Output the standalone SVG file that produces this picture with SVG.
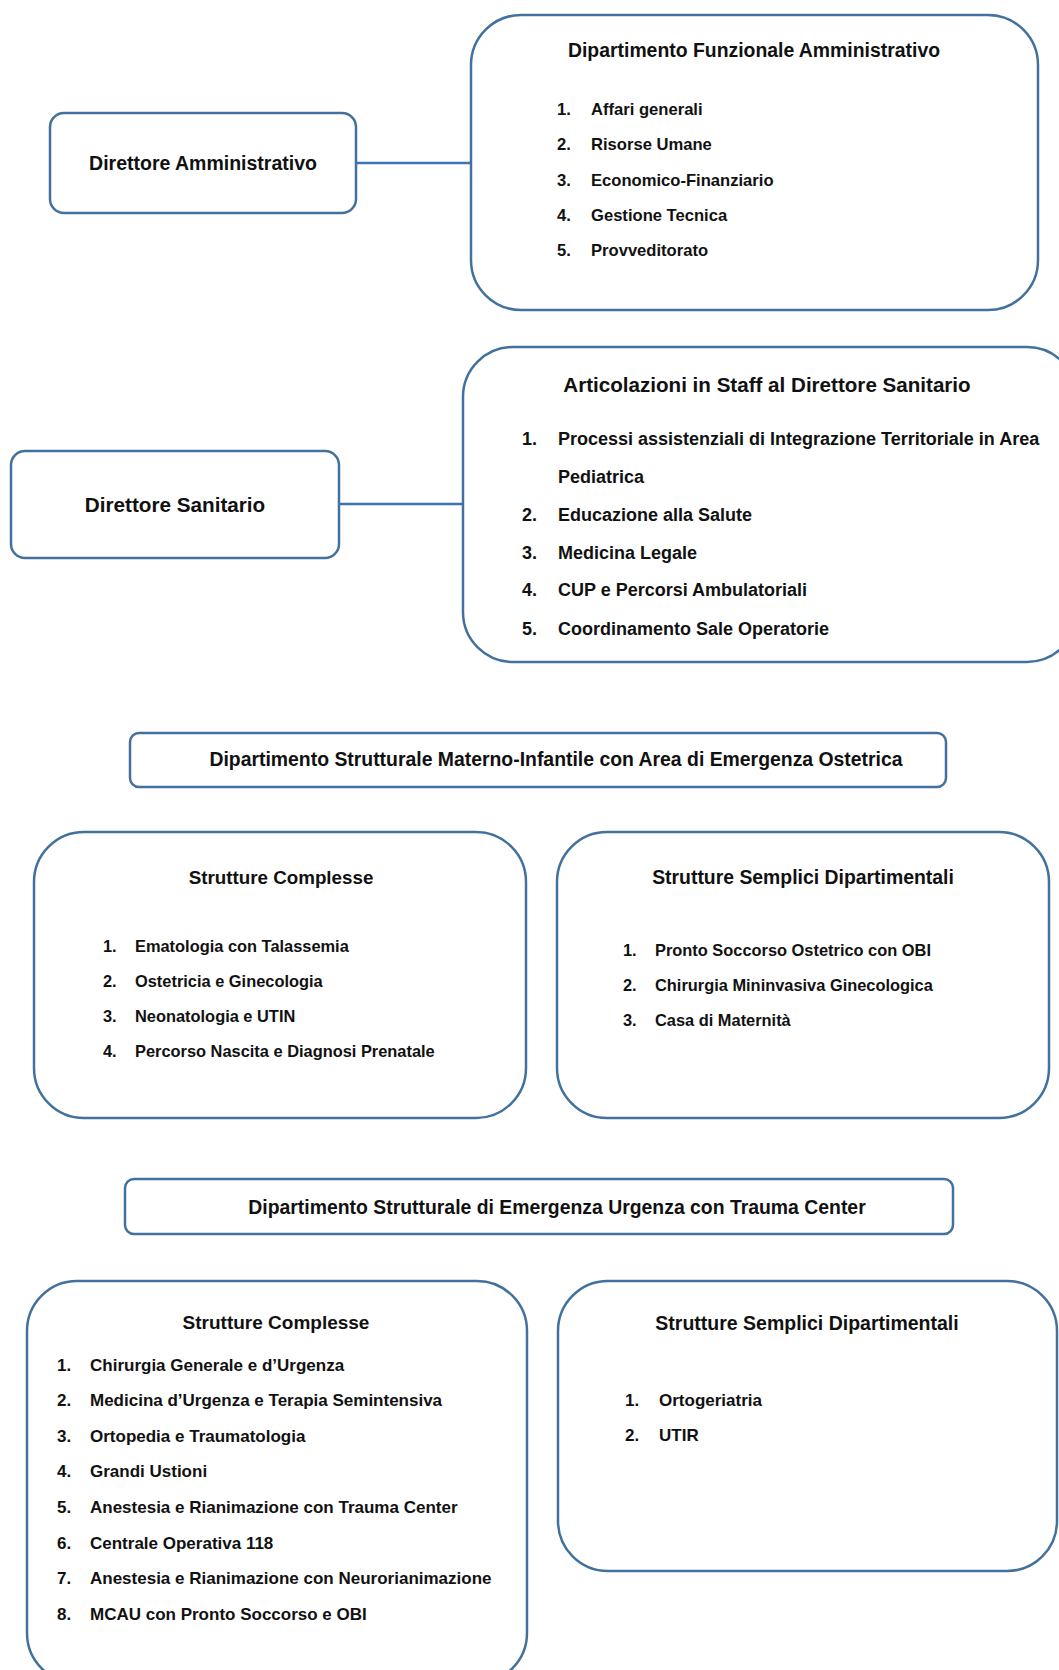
<svg xmlns="http://www.w3.org/2000/svg" width="1059" height="1670" viewBox="0 0 1059 1670">
<style>
.box{fill:#fff;stroke:#41719C;stroke-width:2.5}
.conn{stroke:#3B75B5;stroke-width:2.5;fill:none}
text{font-family:"Liberation Sans",Arial,sans-serif;font-weight:bold;fill:#111}
.t{font-size:19.4px;text-anchor:middle}
.it{font-size:16.6px}
</style>
<rect width="1059" height="1670" fill="#fff"/>
<g id="connectors">
<line class="conn" x1="356" y1="163" x2="471" y2="163"/>
<line class="conn" x1="339" y1="504" x2="463" y2="504"/>
</g>
<g id="direttore-amministrativo">
<rect class="box" x="50" y="113" width="306" height="100" rx="14"/>
<text class="t" x="203" y="170" style="font-size:19.5px">Direttore Amministrativo</text>
</g>
<g id="dip-funzionale-amministrativo">
<rect class="box" x="471" y="15" width="567" height="295" rx="50"/>
<text class="t" x="754" y="57">Dipartimento Funzionale Amministrativo</text>
<g class="it">
<text x="557" y="115">1.</text><text x="591" y="115">Affari generali</text>
<text x="557" y="150">2.</text><text x="591" y="150">Risorse Umane</text>
<text x="557" y="186">3.</text><text x="591" y="186">Economico-Finanziario</text>
<text x="557" y="221">4.</text><text x="591" y="221">Gestione Tecnica</text>
<text x="557" y="256">5.</text><text x="591" y="256">Provveditorato</text>
</g>
</g>
<g id="direttore-sanitario">
<rect class="box" x="11" y="451" width="328" height="107" rx="14"/>
<text class="t" x="175" y="512" style="font-size:20.7px">Direttore Sanitario</text>
</g>
<g id="staff-direttore-sanitario">
<rect class="box" x="463" y="347" width="614" height="315" rx="50"/>
<text class="t" x="767" y="392" style="font-size:20.6px">Articolazioni in Staff al Direttore Sanitario</text>
<g class="it" style="font-size:18px">
<text x="522" y="445">1.</text><text x="558" y="445">Processi assistenziali di Integrazione Territoriale in Area</text>
<text x="558" y="483">Pediatrica</text>
<text x="522" y="521">2.</text><text x="558" y="521">Educazione alla Salute</text>
<text x="522" y="559">3.</text><text x="558" y="559">Medicina Legale</text>
<text x="522" y="596">4.</text><text x="558" y="596">CUP e Percorsi Ambulatoriali</text>
<text x="522" y="635">5.</text><text x="558" y="635">Coordinamento Sale Operatorie</text>
</g>
</g>
<g id="dip-materno-infantile">
<rect class="box" x="130" y="733" width="816" height="54" rx="9"/>
<text class="t" x="556" y="766">Dipartimento Strutturale Materno-Infantile con Area di Emergenza Ostetrica</text>
</g>
<g id="mi-strutture-complesse">
<rect class="box" x="34" y="832" width="492" height="286" rx="50"/>
<text class="t" x="281" y="884" style="font-size:18.8px">Strutture Complesse</text>
<g class="it" style="font-size:16.4px">
<text x="103" y="952">1.</text><text x="135" y="952">Ematologia con Talassemia</text>
<text x="103" y="987">2.</text><text x="135" y="987">Ostetricia e Ginecologia</text>
<text x="103" y="1022">3.</text><text x="135" y="1022">Neonatologia e UTIN</text>
<text x="103" y="1057">4.</text><text x="135" y="1057">Percorso Nascita e Diagnosi Prenatale</text>
</g>
</g>
<g id="mi-strutture-semplici">
<rect class="box" x="557" y="832" width="492" height="286" rx="50"/>
<text class="t" x="803" y="884">Strutture Semplici Dipartimentali</text>
<g class="it" style="font-size:16.4px">
<text x="623" y="956">1.</text><text x="655" y="956">Pronto Soccorso Ostetrico con OBI</text>
<text x="623" y="991">2.</text><text x="655" y="991">Chirurgia Mininvasiva Ginecologica</text>
<text x="623" y="1026">3.</text><text x="655" y="1026">Casa di Maternità</text>
</g>
</g>
<g id="dip-emergenza-urgenza">
<rect class="box" x="125" y="1179" width="828" height="55" rx="9"/>
<text class="t" x="557" y="1214">Dipartimento Strutturale di Emergenza Urgenza con Trauma Center</text>
</g>
<g id="eu-strutture-complesse">
<rect class="box" x="27" y="1281" width="500" height="402" rx="50"/>
<text class="t" x="276" y="1329" style="font-size:19px">Strutture Complesse</text>
<g class="it" style="font-size:17px">
<text x="57" y="1371">1.</text><text x="90" y="1371">Chirurgia Generale e d’Urgenza</text>
<text x="57" y="1406">2.</text><text x="90" y="1406">Medicina d’Urgenza e Terapia Semintensiva</text>
<text x="57" y="1442">3.</text><text x="90" y="1442">Ortopedia e Traumatologia</text>
<text x="57" y="1477">4.</text><text x="90" y="1477">Grandi Ustioni</text>
<text x="57" y="1513">5.</text><text x="90" y="1513">Anestesia e Rianimazione con Trauma Center</text>
<text x="57" y="1549">6.</text><text x="90" y="1549">Centrale Operativa 118</text>
<text x="57" y="1584">7.</text><text x="90" y="1584">Anestesia e Rianimazione con Neurorianimazione</text>
<text x="57" y="1620">8.</text><text x="90" y="1620">MCAU con Pronto Soccorso e OBI</text>
</g>
</g>
<g id="eu-strutture-semplici">
<rect class="box" x="558" y="1281" width="499" height="290" rx="50"/>
<text class="t" x="807" y="1330" style="font-size:19.5px">Strutture Semplici Dipartimentali</text>
<g class="it" style="font-size:17px">
<text x="625" y="1406">1.</text><text x="659" y="1406">Ortogeriatria</text>
<text x="625" y="1441">2.</text><text x="659" y="1441">UTIR</text>
</g>
</g>
</svg>
